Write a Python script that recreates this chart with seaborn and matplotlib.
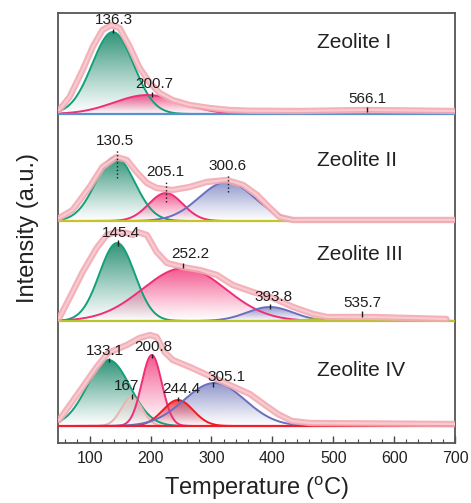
import numpy as np
import pandas as pd
import matplotlib
matplotlib.use("Agg")
import matplotlib.pyplot as plt
from matplotlib.ticker import MultipleLocator
from matplotlib.colors import to_rgb
import seaborn as sns

# ---------------- data ----------------
samples = ["Zeolite I", "Zeolite II", "Zeolite III", "Zeolite IV"]

# fitted peaks: centre (degC), height (a.u.), sigma (degC), colour family, label
z1_center = [138, 195, 560]
z1_height = [82, 19, 3]
z1_sigma = [34, 55, 90]
z1_kind = ["green", "pink", "lilac"]
z1_label = ["136.3", "200.7", "566.1"]

z2_center = [142, 225, 325]
z2_height = [64, 28, 39]
z2_sigma = [32, 28, 45]
z2_kind = ["green", "pink", "blue"]
z2_label = ["130.5", "205.1", "300.6"]

z3_center = [145, 255, 396, 548]
z3_height = [78, 53, 14, 4]
z3_sigma = [29, 68, 38, 60]
z3_kind = ["green", "pink", "blue", "olive"]
z3_label = ["145.4", "252.2", "393.8", "535.7"]

z4_center = [131, 169, 202, 245, 305]
z4_height = [66, 29, 71, 26, 43]
z4_sigma = [35, 17, 16.5, 25, 50]
z4_kind = ["green", "beige", "pink", "red", "blue"]
z4_label = ["133.1", "167", "200.8", "244.4", "305.1"]

# measured TPD profiles (envelopes)
z1_env_t = [50, 67, 88.5, 105, 121, 136, 149, 166, 182, 199, 215, 236, 264, 297, 330, 363, 445, 556, 700]
z1_env_h = [4, 17, 44, 67, 84, 89, 86, 67, 46, 31, 21, 14, 9, 6, 4, 3.3, 3, 4, 3]

z2_env_t = [50, 72, 100, 121, 144, 161, 177, 194, 210, 236, 264, 292, 325, 352, 375, 396, 412, 434, 700]
z2_env_h = [3, 11, 34, 54, 64, 61, 49, 38, 33, 31, 34, 39, 41, 36, 26, 13, 4, 1, 1]

z3_env_t = [50, 67, 88.5, 111.5, 128, 144, 161, 171, 179, 194, 210, 227, 253, 281, 309, 335, 368, 401,
            434, 467, 490, 565, 686]
z3_env_h = [3, 23, 49, 73, 86, 89, 88, 86, 89, 86, 69, 58, 54, 51, 46, 36, 29, 23, 14, 7, 4, 4, 2]

z4_env_t = [50, 88.5, 111.5, 130, 161, 182, 199, 210, 223, 236.5, 264.5, 297, 330, 363, 388, 409, 432, 462, 700]
z4_env_h = [6, 39, 59, 73, 81, 88, 91, 89, 74, 66, 59, 50, 41, 32, 21, 12, 5, 3, 2]

xticks = [100, 200, 300, 400, 500, 600, 700]

# ---------------- layout / style ----------------
panels = [
    (z1_center, z1_height, z1_sigma, z1_kind, z1_env_t, z1_env_h),
    (z2_center, z2_height, z2_sigma, z2_kind, z2_env_t, z2_env_h),
    (z3_center, z3_height, z3_sigma, z3_kind, z3_env_t, z3_env_h),
    (z4_center, z4_height, z4_sigma, z4_kind, z4_env_t, z4_env_h),
]
offsets = [329, 222, 122, 17]
baseline_colors = ["#5a8fd0", "#c8c428", "#b8c428", "#f21c2c"]
name_pos = [(473, 401), (473, 282), (473, 189), (473, 72)]

kinds = {
    "green": ("#13a07a", "#1e8a6c", 0.92),
    "pink": ("#ee2f78", "#f2407f", 0.88),
    "blue": ("#6a6fbf", "#7880c0", 0.82),
    "red": ("#f01c24", "#f42a30", 0.9),
    "beige": ("#e6b5b0", "#e8c4c0", 0.7),
    "lilac": ("#9a9ad6", "#a8a8dc", 0.4),
    "olive": ("#b5c81e", "#c8d850", 0.5),
}

# label layout: text x, text y, mark x, mark top, mark bottom, dotted
label_layout = [
    [(140, 423, 138.3, 414, 410, False), (205.7, 359, 202.4, 351, 346, False), (555.5, 344, 555.5, 336, 331, False)],
    [(141.6, 302, 144.9, 293, 265, True), (223.7, 271, 225.4, 261, 241, True), (327.2, 277, 327.2, 268, 251, True)],
    [(151.5, 210, 146.5, 203, 197, False), (264.8, 189, 253.3, 180, 175, False),
     (402.7, 146, 396.2, 139, 134, False), (547.3, 140, 547.3, 132, 126, False)],
    [(125.2, 92, 131.8, 85, 81, False), (161.3, 57, 169.5, 49, 44, False), (204, 96, 202.4, 89, 85, False),
     (250, 54, 245, 46, 42, False), (325.5, 66, 302.6, 61, 56, False)],
]
all_labels = [z1_label, z2_label, z3_label, z4_label]

sns.set_theme(style="white")
plt.rcParams["font.family"] = ["Liberation Sans", "DejaVu Sans"]
plt.rcParams["mathtext.fontset"] = "custom"
plt.rcParams["mathtext.rm"] = "Liberation Sans"

fig = plt.figure(figsize=(4.71, 5.03), dpi=100)
ax = fig.add_axes([58 / 471, 60 / 503, 397 / 471, 430 / 503])

T = np.linspace(50, 700, 1301)


def gradient_fill(ax, x, base, y, color, alpha_top, z):
    poly = ax.fill_between(x, base, base + y, color="none", lw=0)
    path = poly.get_paths()[0]
    n = 256
    img = np.zeros((n, 1, 4))
    img[:, 0, :3] = to_rgb(color)
    img[:, 0, 3] = alpha_top * np.linspace(0, 1, n) ** 1.1
    top = base + y.max()
    im = ax.imshow(img, extent=[x.min(), x.max(), base, top], origin="lower",
                   aspect="auto", zorder=z, interpolation="bilinear")
    im.set_clip_path(path, transform=ax.transData)


for p, (cen, hei, sig, kd, et, eh) in enumerate(panels):
    base = offsets[p]
    ax.axhline(base, color=baseline_colors[p], lw=1.6, zorder=3)
    for i, (c, h, s, k) in enumerate(zip(cen, hei, sig, kd)):
        lc, fc, a = kinds[k]
        yv = h * np.exp(-((T - c) ** 2) / (2 * s ** 2))
        gradient_fill(ax, T, base, yv, fc, a, 1 + i * 0.1)
        df = pd.DataFrame({"T": T, "I": base + yv})
        sns.lineplot(data=df, x="T", y="I", ax=ax, color=lc, lw=1.4,
                     estimator=None, zorder=2 + i * 0.1)
    # peak labels
    for txt, (tx, ty, mx, mt, mb, dotted) in zip(all_labels[p], label_layout[p]):
        ax.text(tx, ty, txt, ha="center", va="center", fontsize=11, color="#1e1e1e", zorder=6)
        ax.vlines(mx, mb, mt, color="#1e1e1e", lw=1.0, linestyles=":" if dotted else "-", zorder=6)
    # measured profile
    edf = pd.DataFrame({"T": et, "I": np.array(eh) + base})
    sns.lineplot(data=edf, x="T", y="I", ax=ax, color="#f2a9b2", lw=4.6, alpha=0.9,
                 estimator=None, zorder=5, solid_capstyle="round", solid_joinstyle="round")
    sns.lineplot(data=edf, x="T", y="I", ax=ax, color="#f7cbd0", lw=1.6,
                 estimator=None, zorder=5.1, solid_joinstyle="round")
    ax.text(name_pos[p][0], name_pos[p][1], samples[p], ha="left", va="center",
            fontsize=15, color="#222222", zorder=6)

ax.set_xlim(48, 700)
ax.set_ylim(0, 430)
ax.set_xticks(xticks)
ax.xaxis.set_minor_locator(MultipleLocator(20))
ax.set_yticks([])
ax.tick_params(axis="x", which="major", direction="in", length=5, width=1, color="#444444",
               labelsize=11.5, pad=6, bottom=True, top=False, labelcolor="#222222")
ax.tick_params(axis="x", which="minor", direction="in", length=3, width=0.8, color="#444444",
               bottom=True, top=False)
for sp in ax.spines.values():
    sp.set_color("#555555")
    sp.set_linewidth(1.3)
ax.set_xlabel(r"Temperature ($\mathregular{^{o}}$C)", fontsize=17, color="#222222", labelpad=6)
ax.set_ylabel("Intensity (a.u.)", fontsize=17, color="#222222", labelpad=14)

fig.savefig("out.png", dpi=100)
